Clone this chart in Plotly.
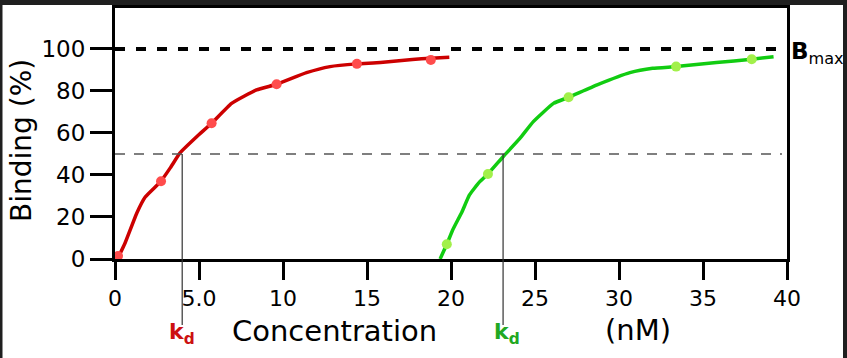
import plotly.graph_objects as go

# ---- data ----
red_curve_x = [0.15, 0.6, 1.3, 1.8, 2.7, 3.3, 3.87, 4.86, 5.75, 6.94, 8.43, 9.62, 11.4, 12.8, 14.4, 15.8, 17.7, 18.8, 19.9]
red_curve_y = [0.0, 7.6, 21.9, 29.5, 36.7, 43.5, 50.5, 58.2, 64.6, 74.1, 80.5, 83.2, 88.7, 91.6, 92.9, 93.5, 95.0, 95.6, 96.0]
red_points_x = [0.18, 2.74, 5.75, 9.62, 14.4, 18.8]
red_points_y = [1.4, 37.0, 64.6, 83.2, 92.9, 94.8]

green_curve_x = [19.35, 19.75, 20.1, 20.65, 21.1, 21.7, 22.2, 23.1, 24.1, 24.9, 26.1, 27.0, 28.7, 30.65, 32.0, 33.4, 35.8, 37.9, 39.2]
green_curve_y = [0.0, 7.0, 13.8, 22.4, 30.5, 36.7, 40.5, 48.7, 57.4, 65.4, 74.1, 77.0, 82.9, 88.7, 90.8, 91.6, 93.5, 95.1, 96.3]
green_points_x = [19.75, 22.2, 27.0, 33.4, 37.9]
green_points_y = [7.0, 40.5, 77.0, 91.6, 95.1]

x_tick_vals = [0, 5, 10, 15, 20, 25, 30, 35, 40]
x_tick_text = ["0", "5.0", "10", "15", "20", "25", "30", "35", "40"]
y_tick_vals = [0, 20, 40, 60, 80, 100]
y_tick_text = ["0", "20", "40", "60", "80", "100"]

bmax = 100
half = 50
kd_red = 4.0
kd_green = 23.1
x_max = 40
y_max = 119.5

FONT = "DejaVu Sans"
RED_LINE = "#cc0000"
RED_DOT = "#ff4c4c"
GREEN_LINE = "#11cc11"
GREEN_DOT = "#a2f04a"
TEXT = "#000000"

# layout geometry (pixels)
W, H = 847, 358
L, R, T, B = 115, 60, 8, 99
pw, ph = W - L - R, H - T - B


def px(xpix):
    return (xpix - L) / pw


def py(ypix):
    return (H - B - ypix) / ph


fig = go.Figure()

fig.add_trace(go.Scatter(x=red_curve_x, y=red_curve_y, mode="lines",
                         line=dict(color=RED_LINE, width=3.5, shape="spline", smoothing=0.4),
                         hoverinfo="skip", showlegend=False))
fig.add_trace(go.Scatter(x=red_points_x, y=red_points_y, mode="markers",
                         marker=dict(color=RED_DOT, size=10), cliponaxis=False, showlegend=False))
fig.add_trace(go.Scatter(x=green_curve_x, y=green_curve_y, mode="lines",
                         line=dict(color=GREEN_LINE, width=3.5, shape="spline", smoothing=0.4),
                         hoverinfo="skip", showlegend=False))
fig.add_trace(go.Scatter(x=green_points_x, y=green_points_y, mode="markers",
                         marker=dict(color=GREEN_DOT, size=10), cliponaxis=False, showlegend=False))

shapes = []
# white page with dark frame strips
shapes.append(dict(type="rect", xref="paper", yref="paper", layer="below",
                   x0=px(2.5), x1=px(843), y0=py(5), y1=py(H + 5),
                   fillcolor="white", line=dict(width=0)))
# Bmax dashed line
shapes.append(dict(type="line", xref="x", yref="y", x0=0, x1=39.7, y0=bmax, y1=bmax,
                   line=dict(color="black", width=4, dash="10px,11px")))
# half-saturation dashed line
shapes.append(dict(type="line", xref="x", yref="y", x0=0, x1=39.7, y0=half, y1=half,
                   line=dict(color="#555555", width=1.5, dash="10px,9px")))
# kd vertical lines
for kd in (kd_red, kd_green):
    shapes.append(dict(type="line", xref="x", yref="paper", x0=kd, x1=kd,
                       y0=half / y_max, y1=py(325),
                       line=dict(color="#333333", width=1.2)))

center = dict(xanchor="center", yanchor="middle", showarrow=False)
annotations = [
    dict(text="Binding (%)", xref="paper", yref="paper", x=px(21), y=py(141),
         textangle=-90, font=dict(family=FONT, size=28, color=TEXT), **center),
    dict(text="Concentration", xref="paper", yref="paper", x=px(334.5), y=py(331),
         font=dict(family=FONT, size=29, color=TEXT), **center),
    dict(text="(nM)", xref="paper", yref="paper", x=px(638), y=py(330),
         font=dict(family=FONT, size=29, color=TEXT), **center),
    dict(text="<b>k<sub>d</sub></b>", xref="paper", yref="paper", x=px(182), y=py(333),
         font=dict(family=FONT, size=22, color="#cc1111"), **center),
    dict(text="<b>k<sub>d</sub></b>", xref="paper", yref="paper", x=px(507), y=py(333),
         font=dict(family=FONT, size=22, color="#22a822"), **center),
    dict(text="<b>B</b><sub>max</sub>", xref="paper", yref="y", x=px(789), y=bmax,
         xanchor="left", yanchor="middle", yshift=-4, showarrow=False,
         font=dict(family=FONT, size=23, color=TEXT)),
]

fig.update_layout(
    width=W, height=H,
    margin=dict(l=L, r=R, t=T, b=B, pad=0, autoexpand=False),
    paper_bgcolor="#1f1f1f",
    plot_bgcolor="white",
    shapes=shapes,
    annotations=annotations,
    xaxis=dict(range=[0, x_max], tickvals=x_tick_vals, ticktext=x_tick_text,
               showgrid=False, zeroline=False, showline=True, linecolor="black",
               linewidth=3, mirror=True, ticks="outside", ticklen=18, tickwidth=3,
               tickcolor="black", automargin=False,
               tickfont=dict(family=FONT, size=22, color=TEXT)),
    yaxis=dict(range=[0, y_max], tickvals=y_tick_vals, ticktext=y_tick_text,
               showgrid=False, zeroline=False, showline=True, linecolor="black",
               linewidth=3, mirror=True, ticks="outside", ticklen=22, tickwidth=3,
               tickcolor="black", automargin=False,
               tickfont=dict(family=FONT, size=23, color=TEXT)),
)

fig.write_html("out.html", config={"displayModeBar": False},
               post_script="document.body.style.margin='0';document.body.style.overflow='hidden';")
